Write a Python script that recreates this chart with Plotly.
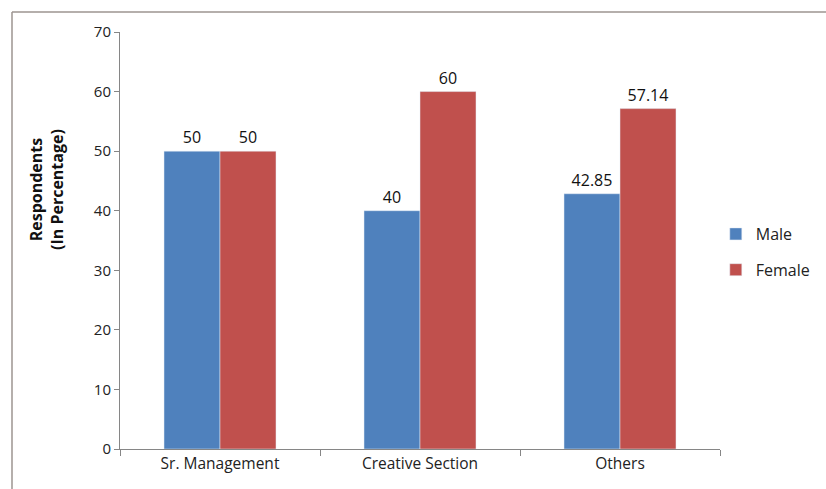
import plotly.graph_objects as go

categories = ["Sr. Management", "Creative Section", "Others"]
male = [50, 40, 42.85]
female = [50, 60, 57.14]
male_labels = ["50", "40", "42.85"]
female_labels = ["50", "60", "57.14"]

BLUE = "#4F81BD"
RED = "#C0504D"
AXIS = "#868686"
BORDER = "#9C9490"
FONT = "Open Sans"

W, H = 826, 489
L, R, T, B = 120, 106, 32, 40
pw, ph = W - L - R, H - T - B

fig = go.Figure()
fig.add_trace(go.Bar(
    x=categories, y=male, name="Male", marker_color=BLUE, legendgroup="m",
    text=male_labels, textposition="outside", cliponaxis=False,
    textfont=dict(size=16, color="#111"),
))
fig.add_trace(go.Bar(
    x=categories, y=female, name="Female", marker_color=RED, legendgroup="f",
    text=female_labels, textposition="outside", cliponaxis=False,
    textfont=dict(size=16, color="#111"),
))

# outer chart frame: only its left and top edges fall inside the picture
x_left = (12 - L) / pw
y_top = ((H - B) - 12) / ph
fig.add_shape(type="line", xref="paper", yref="paper",
              x0=x_left, x1=x_left, y0=-(B + 10) / ph, y1=y_top,
              line=dict(color=BORDER, width=1.5))
fig.add_shape(type="line", xref="paper", yref="paper",
              x0=x_left, x1=(W + 10 - L) / pw, y0=y_top, y1=y_top,
              line=dict(color=BORDER, width=1.5))

# y-axis title sits a bit above the plot centre in the original
fig.add_annotation(
    text="<b>Respondents<br>(In Percentage)</b>",
    xref="paper", yref="paper", x=(46 - L) / pw, y=((H - B) - 190) / ph,
    textangle=-90, showarrow=False, xanchor="center", yanchor="middle",
    font=dict(size=16, color="#111"),
)

fig.update_layout(
    width=W, height=H,
    margin=dict(l=L, r=R, t=T, b=B, autoexpand=False),
    paper_bgcolor="white", plot_bgcolor="white",
    barmode="group", bargap=0.44, bargroupgap=0,
    font=dict(family=FONT, size=14, color="#222"),
    showlegend=True,
    legend=dict(x=0.993, y=((H - B) - 252) / ph, yanchor="middle",
                xanchor="left", font=dict(size=16), itemwidth=30,
                tracegroupgap=12),
)
fig.update_xaxes(
    automargin=False,
    showline=True, linecolor=AXIS, linewidth=1,
    ticks="outside", tickson="boundaries", ticklen=6, tickcolor=AXIS,
    tickfont=dict(size=15.5), showgrid=False,
)
fig.update_yaxes(
    automargin=False,
    range=[0, 70], dtick=10, showgrid=False,
    showline=True, linecolor=AXIS, linewidth=1,
    ticks="outside", ticklen=5, tickcolor=AXIS,
    tickfont=dict(size=15),
)

# drop the default page margin so the figure fills the window exactly
fig.write_html(
    "out.html",
    config={"displayModeBar": False},
    post_script="document.body.style.margin='0';"
                "document.body.style.overflow='hidden';",
)
